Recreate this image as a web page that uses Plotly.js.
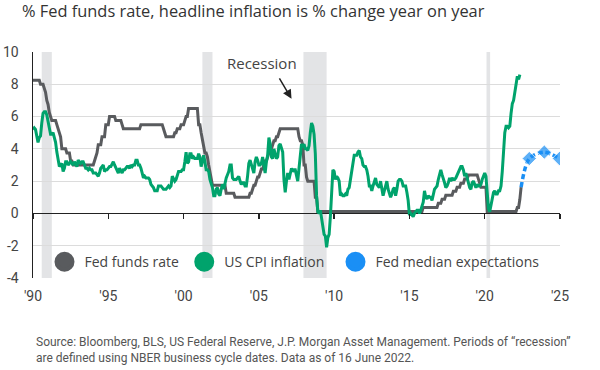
<!DOCTYPE html>
<html>
<head>
<meta charset="utf-8">
<script src="https://cdn.plot.ly/plotly-3.0.1.min.js"></script>
<style>
  html, body { margin: 0; padding: 0; background: #fff; }
  #chart { width: 600px; height: 370px; }
</style>
</head>
<body>
<div id="chart"></div>
<script>
// ---------- DATA ----------
const startYear = 1990; // monthly series start in Jan 1990

// Fed funds target rate (%), monthly Jan 1990 - Jun 2022
const fedFunds = [
  8.25,8.25,8.25,8.25,8.25,8.25,8.0,8.0,8.0,7.75,7.5,7.0,          // 1990
  6.75,6.25,6.0,5.75,5.75,5.75,5.75,5.5,5.25,5.0,4.75,4.0,         // 1991
  4.0,4.0,4.0,3.75,3.75,3.75,3.25,3.25,3.0,3.0,3.0,3.0,            // 1992
  3.0,3.0,3.0,3.0,3.0,3.0,3.0,3.0,3.0,3.0,3.0,3.0,                 // 1993
  3.0,3.25,3.5,3.75,4.25,4.25,4.25,4.75,4.75,4.75,5.5,5.5,         // 1994
  5.5,6.0,6.0,6.0,6.0,6.0,5.75,5.75,5.75,5.75,5.75,5.5,            // 1995
  5.25,5.25,5.25,5.25,5.25,5.25,5.25,5.25,5.25,5.25,5.25,5.25,     // 1996
  5.25,5.25,5.5,5.5,5.5,5.5,5.5,5.5,5.5,5.5,5.5,5.5,               // 1997
  5.5,5.5,5.5,5.5,5.5,5.5,5.5,5.5,5.25,5.0,4.75,4.75,              // 1998
  4.75,4.75,4.75,4.75,4.75,5.0,5.0,5.25,5.25,5.25,5.5,5.5,         // 1999
  5.5,5.75,6.0,6.0,6.5,6.5,6.5,6.5,6.5,6.5,6.5,6.5,                // 2000
  5.5,5.5,5.0,4.5,4.0,3.75,3.75,3.5,3.0,2.5,2.0,1.75,              // 2001
  1.75,1.75,1.75,1.75,1.75,1.75,1.75,1.75,1.75,1.75,1.25,1.25,     // 2002
  1.25,1.25,1.25,1.25,1.25,1.0,1.0,1.0,1.0,1.0,1.0,1.0,            // 2003
  1.0,1.0,1.0,1.0,1.0,1.25,1.25,1.5,1.75,1.75,2.0,2.25,            // 2004
  2.25,2.5,2.75,2.75,3.0,3.25,3.25,3.5,3.75,3.75,4.0,4.25,         // 2005
  4.5,4.5,4.75,4.75,5.0,5.25,5.25,5.25,5.25,5.25,5.25,5.25,        // 2006
  5.25,5.25,5.25,5.25,5.25,5.25,5.25,5.25,4.75,4.5,4.5,4.25,       // 2007
  3.0,3.0,2.25,2.0,2.0,2.0,2.0,2.0,2.0,1.0,1.0,0.125,              // 2008
  0.125,0.125,0.125,0.125,0.125,0.125,0.125,0.125,0.125,0.125,0.125,0.125, // 2009
  0.125,0.125,0.125,0.125,0.125,0.125,0.125,0.125,0.125,0.125,0.125,0.125, // 2010
  0.125,0.125,0.125,0.125,0.125,0.125,0.125,0.125,0.125,0.125,0.125,0.125, // 2011
  0.125,0.125,0.125,0.125,0.125,0.125,0.125,0.125,0.125,0.125,0.125,0.125, // 2012
  0.125,0.125,0.125,0.125,0.125,0.125,0.125,0.125,0.125,0.125,0.125,0.125, // 2013
  0.125,0.125,0.125,0.125,0.125,0.125,0.125,0.125,0.125,0.125,0.125,0.125, // 2014
  0.125,0.125,0.125,0.125,0.125,0.125,0.125,0.125,0.125,0.125,0.125,0.375, // 2015
  0.375,0.375,0.375,0.375,0.375,0.375,0.375,0.375,0.375,0.375,0.375,0.625, // 2016
  0.625,0.625,0.875,0.875,0.875,1.125,1.125,1.125,1.125,1.125,1.125,1.375, // 2017
  1.375,1.375,1.625,1.625,1.625,1.875,1.875,1.875,2.125,2.125,2.125,2.375, // 2018
  2.375,2.375,2.375,2.375,2.375,2.375,2.375,2.125,1.875,1.625,1.625,1.625, // 2019
  1.625,1.625,0.125,0.125,0.125,0.125,0.125,0.125,0.125,0.125,0.125,0.125, // 2020
  0.125,0.125,0.125,0.125,0.125,0.125,0.125,0.125,0.125,0.125,0.125,0.125, // 2021
  0.125,0.125,0.375,0.375,0.875,1.625                                       // 2022
];

// US CPI inflation (% y/y), monthly Jan 1990 - May 2022
const cpiInflation = [
  5.2,5.3,5.2,4.7,4.4,4.7,4.8,5.6,6.2,6.3,6.3,6.1,   // 1990
  5.7,5.3,4.9,4.9,5.0,4.7,4.4,3.8,3.4,2.9,3.0,3.1,   // 1991
  2.6,2.8,3.2,3.2,3.0,3.1,3.2,3.1,3.0,3.2,3.0,2.9,   // 1992
  3.3,3.2,3.1,3.2,3.2,3.0,2.8,2.8,2.7,2.8,2.7,2.7,   // 1993
  2.5,2.5,2.5,2.4,2.3,2.5,2.8,2.9,3.0,2.6,2.7,2.7,   // 1994
  2.8,2.9,2.9,3.1,3.2,3.0,2.8,2.6,2.5,2.8,2.6,2.5,   // 1995
  2.7,2.7,2.8,2.9,2.9,2.8,3.0,2.9,3.0,3.0,3.3,3.3,   // 1996
  3.0,3.0,2.8,2.5,2.2,2.3,2.2,2.2,2.2,2.1,1.8,1.7,   // 1997
  1.6,1.4,1.4,1.4,1.7,1.7,1.7,1.6,1.5,1.5,1.5,1.6,   // 1998
  1.7,1.6,1.7,2.3,2.1,2.0,2.1,2.3,2.6,2.6,2.6,2.7,   // 1999
  2.7,3.2,3.8,3.1,3.2,3.7,3.7,3.4,3.5,3.4,3.4,3.4,   // 2000
  3.7,3.5,2.9,3.3,3.6,3.2,2.7,2.7,2.6,2.1,1.9,1.6,   // 2001
  1.1,1.1,1.5,1.6,1.2,1.1,1.5,1.8,1.5,2.0,2.2,2.4,   // 2002
  2.6,3.0,3.0,2.2,2.1,2.1,2.1,2.2,2.3,2.0,1.8,1.9,   // 2003
  1.9,1.7,1.7,2.3,3.1,3.3,3.0,2.7,2.5,3.2,3.5,3.3,   // 2004
  3.0,3.0,3.1,3.5,2.8,2.5,3.2,3.6,4.7,4.3,3.5,3.4,   // 2005
  4.0,3.6,3.4,3.5,4.2,4.3,4.1,3.8,2.1,1.3,2.0,2.5,   // 2006
  2.1,2.4,2.8,2.6,2.7,2.7,2.4,2.0,2.8,3.5,4.3,4.1,   // 2007
  4.3,4.0,4.0,3.9,4.2,5.0,5.6,5.4,4.9,3.7,1.1,0.1,   // 2008
  0.0,0.2,-0.4,-0.7,-1.3,-1.4,-2.1,-1.5,-1.3,-0.2,1.8,2.7, // 2009
  2.6,2.1,2.3,2.2,2.0,1.1,1.2,1.1,1.1,1.2,1.1,1.5,   // 2010
  1.6,2.1,2.7,3.2,3.6,3.6,3.6,3.8,3.9,3.5,3.4,3.0,   // 2011
  2.9,2.9,2.7,2.3,1.7,1.7,1.4,1.7,2.0,2.2,1.8,1.7,   // 2012
  1.6,2.0,1.5,1.1,1.4,1.8,2.0,1.5,1.2,1.0,1.2,1.5,   // 2013
  1.6,1.1,1.5,2.0,2.1,2.1,2.0,1.7,1.7,1.7,1.3,0.8,   // 2014
  -0.1,0.0,-0.1,-0.2,0.0,0.1,0.2,0.2,0.0,0.2,0.5,0.7, // 2015
  1.4,1.0,0.9,1.1,1.0,1.0,0.8,1.1,1.5,1.6,1.7,2.1,   // 2016
  2.5,2.7,2.4,2.2,1.9,1.6,1.7,1.9,2.2,2.0,2.2,2.1,   // 2017
  2.1,2.2,2.4,2.5,2.8,2.9,2.9,2.7,2.3,2.5,2.2,1.9,   // 2018
  1.6,1.5,1.9,2.0,1.8,1.6,1.8,1.7,1.7,1.8,2.1,2.3,   // 2019
  2.5,2.3,1.5,0.3,0.1,0.6,1.0,1.3,1.4,1.2,1.2,1.4,   // 2020
  1.4,1.7,2.6,4.2,5.0,5.4,5.4,5.3,5.4,6.2,6.8,7.0,   // 2021
  7.5,7.9,8.5,8.3,8.6                                // 2022
];

// Fed median expectations (June 2022 SEP), end of year
const fedExpYears = [2022, 2023, 2024];
const fedExpValues = [3.4, 3.8, 3.4];

// NBER recessions (decimal years)
const recessionStart = [1990.58, 2001.25, 2007.96, 2020.12];
const recessionEnd   = [1991.25, 2001.92, 2009.5, 2020.36];

// Axis ticks
const xTickVals = [1990, 1995, 2000, 2005, 2010, 2015, 2020, 2025];
const xTickText = ["'90", "'95", "'00", "'05", "'10", "'15", "'20", "'25"];
const yTickVals = [-4, -2, 0, 2, 4, 6, 8, 10];
const yTickText = ["-4", "-2", "0", "2", "4", "6", "8", "10"];

const seriesNames = ["Fed funds rate", "US CPI inflation", "Fed median expectations"];
const colors = ["#595b5e", "#00a36c", "#1a8ff5"];

// ---------- BUILD ----------
const monthX = (i) => startYear + i / 12;
const ffX = fedFunds.map((_, i) => monthX(i));
const cpiX = cpiInflation.map((_, i) => monthX(i));

const expX = [ffX[ffX.length - 1]].concat(fedExpYears.map(y => y + 11.5 / 12));
const expY = [fedFunds[fedFunds.length - 1]].concat(fedExpValues);

const FONT = "Roboto, 'Open Sans', Arial, sans-serif";
const FONT2 = "'Open Sans', Roboto, Arial, sans-serif";

const traces = [
  { x: ffX, y: fedFunds, mode: 'lines', line: { color: colors[0], width: 3 }, showlegend: false, hoverinfo: 'skip' },
  { x: cpiX, y: cpiInflation, mode: 'lines', line: { color: colors[1], width: 3 }, showlegend: false, hoverinfo: 'skip' },
  { x: expX, y: expY, mode: 'lines+markers', line: { color: colors[2], width: 3.5, dash: '5px,3px', shape: 'spline', smoothing: 0.8 },
    marker: { symbol: 'diamond', size: [0, 11, 11, 11], color: colors[2] }, showlegend: false, hoverinfo: 'skip' },
  // tick-mark axis at y = 0
  { x: [null], y: [null], xaxis: 'x2', yaxis: 'y', showlegend: false, hoverinfo: 'skip', mode: 'lines' }
];
// legend entries, one legend per entry for exact placement
const legendIds = ['legend', 'legend2', 'legend3'];
const legendX = [0.0218, 0.287, 0.574];
seriesNames.forEach((n, k) => {
  traces.push({ x: [null], y: [null], mode: 'markers', name: n, legend: legendIds[k],
    marker: { color: colors[k], size: 16, symbol: 'circle', line: { color: colors[k], width: 4 } } });
});

const shapes = recessionStart.map((s, k) => ({
  type: 'rect', xref: 'x', yref: 'paper', x0: s, x1: recessionEnd[k], y0: 0, y1: 1,
  fillcolor: '#e3e4e6', line: { width: 0 }, layer: 'below'
}));

const layout = {
  width: 600, height: 370,
  margin: { l: 33, r: 40, t: 52, b: 92 },
  paper_bgcolor: '#ffffff', plot_bgcolor: '#ffffff',
  font: { family: FONT, color: '#444', size: 14 },
  title: { text: '% Fed funds rate, headline inflation is % change year on year',
    xref: 'container', yref: 'container', x: 22 / 600, xanchor: 'left', y: 1 - 11 / 370, yanchor: 'middle',
    font: { family: FONT2, size: 16.4, color: '#333' } },
  xaxis: { range: [1990, 2025], tickvals: xTickVals, ticktext: xTickText, showgrid: false, zeroline: false,
    showline: false, ticks: '', ticklabelstandoff: 8, tickfont: { size: 14, color: '#444' }, fixedrange: true },
  xaxis2: { range: [1990, 2025], overlaying: 'x', anchor: 'free', position: 4 / 14, side: 'bottom',
    tickvals: xTickVals, showticklabels: false, ticks: 'outside', ticklen: 5, tickwidth: 1.5, tickcolor: '#222',
    showgrid: false, zeroline: false, showline: false },
  yaxis: { range: [-4, 10], tickvals: yTickVals, ticktext: yTickText, showgrid: true, gridcolor: '#dcdcdc', gridwidth: 1,
    zeroline: true, zerolinecolor: '#222', zerolinewidth: 1.5, showline: true, linecolor: '#222', linewidth: 1.5,
    ticks: '', ticklabelstandoff: 10, tickfont: { size: 14, color: '#444' } },
  shapes: shapes,
  annotations: [
    { x: 2005.2, y: 9.3, xref: 'x', yref: 'y', text: 'Recession', showarrow: false,
      font: { family: FONT2, size: 15, color: '#444' } },
    { x: 2007.17, y: 7.1, xref: 'x', yref: 'y', text: '', showarrow: true, arrowhead: 2, arrowsize: 1.2, arrowwidth: 1.5,
      arrowcolor: '#222', ax: -13, ay: -22 },
    { xref: 'paper', yref: 'paper', x: 0.002, y: -0.245, xanchor: 'left', yanchor: 'top', align: 'left', showarrow: false,
      text: 'Source: Bloomberg, BLS, US Federal Reserve, J.P. Morgan Asset Management. Periods of “recession”<br>are defined using NBER business cycle dates. Data as of 16 June 2022.',
      font: { size: 12, color: '#555' } }
  ]
};
legendIds.forEach((id, k) => {
  layout[id] = { orientation: 'h', x: legendX[k], xanchor: 'left', y: 0.07, yanchor: 'middle',
    bgcolor: 'rgba(0,0,0,0)', font: { family: FONT2, size: 14, color: '#444' }, itemwidth: 30 };
});

Plotly.newPlot('chart', traces, layout, { staticPlot: true, displayModeBar: false });
</script>
</body>
</html>
